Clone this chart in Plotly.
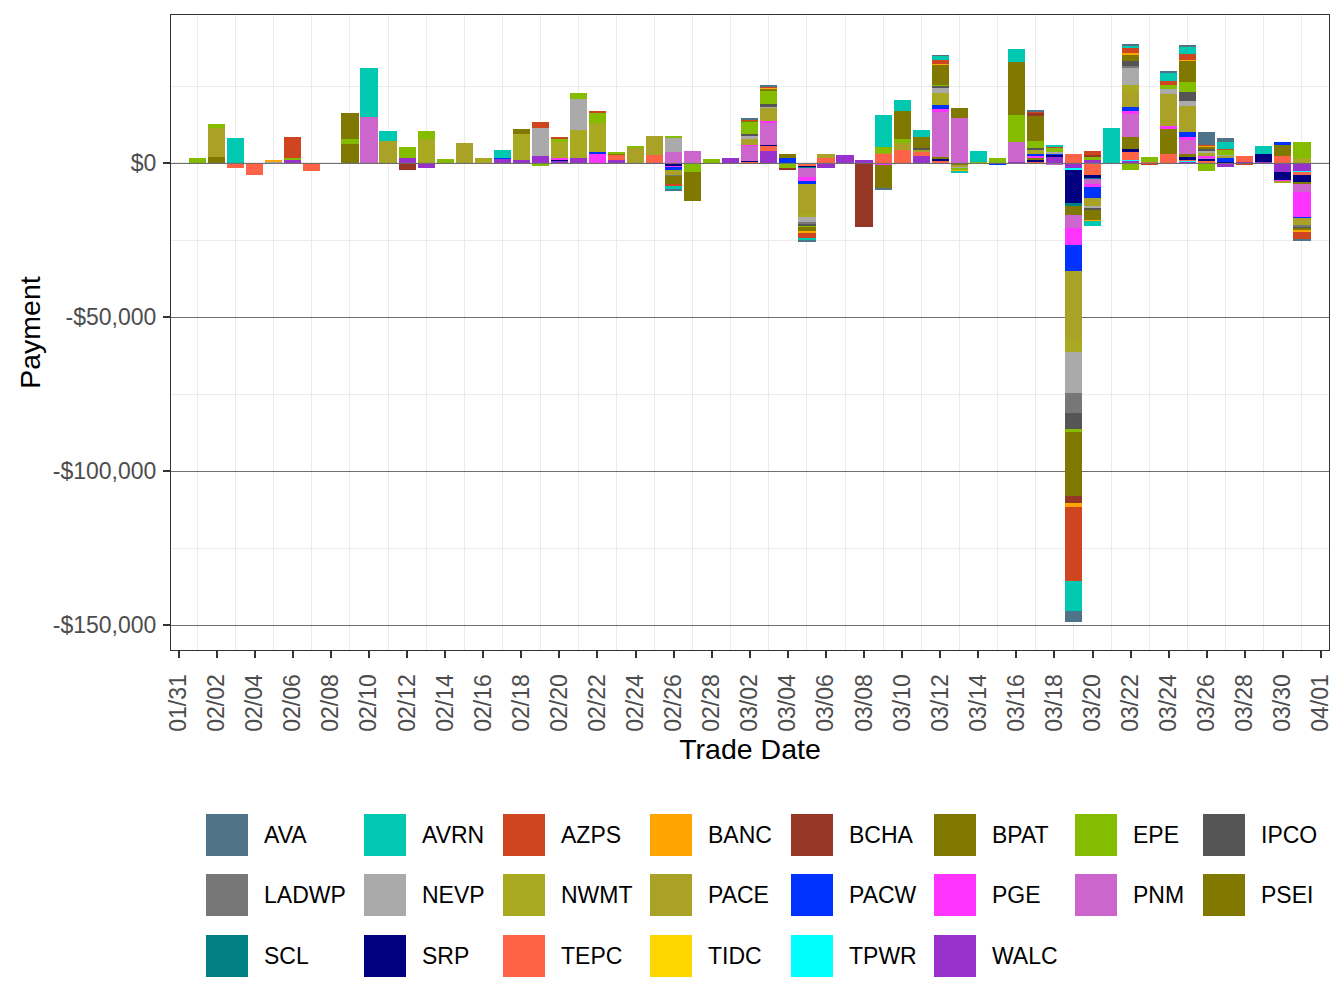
import plotly.graph_objects as go

YEAR = "2021"

SERIES = ["AVA", "AVRN", "AZPS", "BANC", "BCHA", "BPAT", "EPE", "IPCO",
          "LADWP", "NEVP", "NWMT", "PACE", "PACW", "PGE", "PNM", "PSEI",
          "SCL", "SRP", "TEPC", "TIDC", "TPWR", "WALC"]

COLORS = {
    "AVA": "#4F7489", "AVRN": "#00C8B1", "AZPS": "#CF4520", "BANC": "#FFA500",
    "BCHA": "#963624", "BPAT": "#817800", "EPE": "#84BD00", "IPCO": "#555555",
    "LADWP": "#777777", "NEVP": "#AAAAAA", "NWMT": "#AAAA22", "PACE": "#A9A227",
    "PACW": "#0033FF", "PGE": "#FF33FF", "PNM": "#CC66CC", "PSEI": "#817800",
    "SCL": "#008080", "SRP": "#000080", "TEPC": "#FF6347", "TIDC": "#FFD700",
    "TPWR": "#00FFFF", "WALC": "#9932CC",
}

# Payments in thousands of dollars: (MM-DD, value)
AVA = [("02-26", -0.3), ("03-02", 0.3), ("03-03", 0.6), ("03-05", -0.3), ("03-09", -0.3),
       ("03-12", 0.2), ("03-17", 0.6), ("03-19", -3.6), ("03-22", 0.3), ("03-24", 0.3),
       ("03-25", 0.6), ("03-26", 4.2), ("03-27", 1.3), ("03-31", -0.3)]
AVRN = [("02-03", 8.2), ("02-10", 15.9), ("02-11", 3.2), ("02-17", 2.6), ("02-26", -1.1),
        ("03-05", -1.0), ("03-09", 10.4), ("03-10", 3.6), ("03-11", 2.3), ("03-12", 1.3),
        ("03-13", -0.3), ("03-14", 3.6), ("03-16", 4.5), ("03-18", 0.2), ("03-19", -9.7),
        ("03-20", -1.6), ("03-21", 11.4), ("03-22", 0.6), ("03-24", 2.9), ("03-25", 2.3),
        ("03-27", 2.3), ("03-29", 2.6)]
AZPS = [("02-06", 7.1), ("02-19", 1.9), ("02-20", 0.3), ("02-22", 0.3), ("02-26", -0.6),
        ("03-02", 0.6), ("03-03", 0.3), ("03-05", -1.6), ("03-12", 1.3), ("03-17", 0.3),
        ("03-18", 0.3), ("03-19", -24.0), ("03-20", 1.3), ("03-22", 1.9), ("03-23", -0.3),
        ("03-24", 1.0), ("03-25", 1.9), ("03-26", 0.3), ("03-27", 0.3), ("03-28", -0.4),
        ("03-31", -2.6)]
BANC = [("02-05", 0.5), ("03-03", 0.3), ("03-05", -0.6), ("03-12", 0.3), ("03-13", -0.3),
        ("03-19", -1.3), ("03-20", -0.3), ("03-22", 0.3), ("03-25", 0.3), ("03-26", 0.3),
        ("03-31", -0.3)]
BCHA = [("02-12", -2.2), ("03-04", -0.3), ("03-08", -20.8), ("03-17", 1.0), ("03-19", -2.3),
        ("03-20", 0.3)]
BPAT = [("02-09", 8.4), ("02-18", 1.9), ("02-26", -2.7), ("02-27", -9.4), ("03-02", 0.3),
        ("03-03", 1.0), ("03-04", 1.6), ("03-05", -1.3), ("03-09", -7.6), ("03-10", 9.1),
        ("03-11", 3.6), ("03-12", 6.5), ("03-13", 3.2), ("03-16", 17.2), ("03-17", 8.1),
        ("03-19", -20.8), ("03-20", -3.2), ("03-22", 2.3), ("03-25", 7.1), ("03-26", 0.6),
        ("03-31", -0.6)]
EPE = [("02-01", 1.7), ("02-02", 1.2), ("02-06", 0.3), ("02-09", 1.6), ("02-12", 3.5),
       ("02-13", 2.6), ("02-14", 1.4), ("02-19", -0.9), ("02-20", 1.3), ("02-21", 1.9),
       ("02-22", 3.6), ("02-23", 0.6), ("02-24", 0.3), ("02-26", 0.3), ("02-27", -2.9),
       ("02-28", 1.3), ("03-02", 3.9), ("03-03", 4.2), ("03-04", -1.6), ("03-05", -0.3),
       ("03-09", 1.9), ("03-10", 1.3), ("03-12", 0.3), ("03-13", -0.6), ("03-14", 0.3),
       ("03-15", 1.6), ("03-16", 8.7), ("03-17", 2.3), ("03-18", 1.6), ("03-19", -1.0),
       ("03-20", 1.3), ("03-22", -2.3), ("03-23", 1.6), ("03-24", 1.3), ("03-25", 3.2),
       ("03-26", -2.6), ("03-27", 1.6), ("03-31", 4.9)]
IPCO = [("03-02", 0.6), ("03-03", 0.6), ("03-05", -0.6), ("03-11", 0.3), ("03-12", 0.6),
        ("03-17", 0.6), ("03-19", -5.2), ("03-20", -0.6), ("03-22", 1.6), ("03-25", 2.9),
        ("03-26", 0.6), ("03-31", -0.6)]
LADWP = [("02-26", -0.3), ("03-05", -0.6), ("03-19", -6.5), ("03-22", 0.3), ("03-31", -0.6)]
NEVP = [("02-05", 0.6), ("02-19", 9.1), ("02-21", 10.1), ("02-26", 4.9), ("03-02", 1.0),
        ("03-03", 0.6), ("03-05", -1.9), ("03-12", 1.9), ("03-13", -0.6), ("03-18", 0.5),
        ("03-19", -13.3), ("03-20", -1.0), ("03-22", 5.8), ("03-24", 1.9), ("03-25", 1.6),
        ("03-26", 0.6), ("03-27", 0.3)]
NWMT = [("02-13", 7.9), ("02-16", 1.6), ("02-18", 8.4), ("02-20", 5.1), ("02-21", 8.8),
        ("02-22", 9.3), ("03-05", -0.9), ("03-12", 3.9), ("03-17", 1.6), ("03-19", -4.2),
        ("03-22", 2.6), ("03-26", 0.6), ("03-31", 1.9)]
PACE = [("02-02", 9.5), ("02-11", 7.3), ("02-15", 6.6), ("02-24", 5.2), ("02-25", 6.2),
        ("02-26", -1.7), ("03-02", 1.9), ("03-03", 4.2), ("03-05", -9.8), ("03-06", 1.6),
        ("03-09", 0.2), ("03-10", 2.3), ("03-11", 1.0), ("03-13", -0.6), ("03-19", -22.1),
        ("03-20", -2.3), ("03-22", 4.5), ("03-24", 10.1), ("03-25", 8.3), ("03-26", 0.6),
        ("03-27", 0.6), ("03-30", -0.4), ("03-31", -2.3)]
PACW = [("02-06", 0.2), ("02-17", 0.3), ("02-22", 0.8), ("02-25", -0.2), ("02-26", -0.6),
        ("03-04", 1.6), ("03-05", -0.6), ("03-12", 1.0), ("03-15", -0.6), ("03-17", 0.5),
        ("03-18", 0.3), ("03-19", -8.4), ("03-20", -3.6), ("03-22", 1.3), ("03-25", 1.6),
        ("03-27", 1.3), ("03-30", 0.6), ("03-31", -0.3)]
PGE = [("02-20", 0.3), ("02-22", 2.9), ("02-26", -0.4), ("03-02", 0.3), ("03-03", 0.6),
       ("03-05", -1.6), ("03-09", -0.5), ("03-12", 1.0), ("03-17", 0.5), ("03-19", -5.5),
       ("03-20", -1.2), ("03-22", 1.0), ("03-24", 1.0), ("03-25", 1.0), ("03-26", 0.6),
       ("03-30", -0.3), ("03-31", -8.1)]
PNM = [("02-10", 15.0), ("02-26", 3.6), ("02-27", 3.9), ("03-02", 4.9), ("03-03", 7.1),
       ("03-05", -2.9), ("03-12", 14.6), ("03-13", 14.9), ("03-16", 6.3), ("03-18", -0.4),
       ("03-19", -4.2), ("03-20", -1.4), ("03-22", 7.5), ("03-25", 4.5), ("03-26", 0.3),
       ("03-31", -2.6)]
PSEI = [("02-02", 2.1), ("02-09", 6.3), ("02-23", 0.3), ("03-12", 0.5), ("03-13", -0.6),
        ("03-17", 0.6), ("03-19", -2.9), ("03-22", 3.9), ("03-24", 8.1), ("03-25", 1.0),
        ("03-30", 3.9), ("03-31", -0.6)]
SCL = [("03-05", -0.3), ("03-19", -1.0), ("03-20", -0.3)]
SRP = [("02-20", 0.4), ("02-26", -0.6), ("03-02", 0.3), ("03-03", 0.3), ("03-05", -0.3),
       ("03-12", 1.0), ("03-17", 1.0), ("03-18", 0.8), ("03-19", -10.9), ("03-20", -1.0),
       ("03-22", 1.0), ("03-25", 1.0), ("03-26", 0.6), ("03-27", 0.3), ("03-29", 2.6),
       ("03-30", -2.6), ("03-31", -2.3)]
TEPC = [("02-03", -1.4), ("02-04", -3.8), ("02-07", -2.5), ("02-16", -0.2), ("02-23", 1.9),
        ("02-25", 2.6), ("03-02", 0.6), ("03-03", 1.9), ("03-05", -0.6), ("03-06", 1.6),
        ("03-09", 3.0), ("03-10", 4.2), ("03-11", 1.3), ("03-12", 0.4), ("03-17", 0.3),
        ("03-18", -0.2), ("03-19", 2.9), ("03-20", -3.6), ("03-22", 2.5), ("03-23", 0.5),
        ("03-24", 3.2), ("03-25", 0.3), ("03-26", 0.6), ("03-27", 0.3), ("03-28", 1.9),
        ("03-30", 2.3), ("03-31", -1.0)]
TIDC = [("03-09", 0.2)]
TPWR = [("03-05", -0.3), ("03-19", -0.4), ("03-20", -0.3), ("03-22", 0.3), ("03-25", 0.3),
        ("03-31", -0.3)]
WALC = [("02-06", 1.1), ("02-12", 1.8), ("02-13", -1.4), ("02-17", 1.6), ("02-18", 1.0),
        ("02-19", 2.3), ("02-20", 1.0), ("02-21", 1.9), ("02-23", 1.0), ("02-26", -0.5),
        ("03-01", 1.6), ("03-03", 3.9), ("03-06", -1.6), ("03-07", 2.6), ("03-08", 1.0),
        ("03-11", 2.3), ("03-12", 0.3), ("03-16", 0.6), ("03-18", 2.1), ("03-19", -1.6),
        ("03-20", 1.0), ("03-21", 0.2), ("03-22", 0.8), ("03-25", 0.6), ("03-26", 0.3),
        ("03-27", -1.3), ("03-28", 0.6), ("03-29", 0.6), ("03-30", -2.9), ("03-31", -2.6)]

DATA = {"AVA": AVA, "AVRN": AVRN, "AZPS": AZPS, "BANC": BANC, "BCHA": BCHA, "BPAT": BPAT,
        "EPE": EPE, "IPCO": IPCO, "LADWP": LADWP, "NEVP": NEVP, "NWMT": NWMT, "PACE": PACE,
        "PACW": PACW, "PGE": PGE, "PNM": PNM, "PSEI": PSEI, "SCL": SCL, "SRP": SRP,
        "TEPC": TEPC, "TIDC": TIDC, "TPWR": TPWR, "WALC": WALC}

Y_TICKS = [0, -50000, -100000, -150000]
Y_TICK_TEXT = ["$0", "-$50,000", "-$100,000", "-$150,000"]
Y_MINOR = [25000, -25000, -75000, -125000]

FONT = "Liberation Sans, Arial, sans-serif"
DAY_MS = 86400000

fig = go.Figure()
# ggplot stacks the last level nearest zero: add traces WALC -> AVA
for name in reversed(SERIES):
    pts = DATA[name]
    fig.add_trace(go.Bar(
        x=[f"{YEAR}-{d}" for d, _ in pts],
        y=[v * 1000 for _, v in pts],
        name=name,
        marker=dict(color=COLORS[name], line=dict(width=0)),
        width=0.9 * DAY_MS,
        showlegend=False,
    ))

# figure geometry (pixels)
W, H = 1344, 1008
ML, MR, MT, MB = 171, 15, 15, 358
PW, PH = W - ML - MR, H - MT - MB

def px_x(px):
    return (px - ML) / PW

def px_y(py):
    return (H - MB - py) / PH

# custom legend (ggplot style, 8 columns x 3 rows)
LEG_COL_X = [206, 364, 503, 650, 791, 934, 1075, 1203]
LEG_ROW_Y = [814, 874, 935]
SW = 42
shapes = []
annotations = []
for i, name in enumerate(SERIES):
    r, c = divmod(i, 8)
    x0, y0 = LEG_COL_X[c], LEG_ROW_Y[r]
    shapes.append(dict(type="rect", xref="paper", yref="paper",
                       x0=px_x(x0), x1=px_x(x0 + SW), y0=px_y(y0 + SW), y1=px_y(y0),
                       fillcolor=COLORS[name], line=dict(width=0), layer="above"))
    annotations.append(dict(xref="paper", yref="paper", x=px_x(x0 + 56), y=px_y(y0 + SW / 2),
                            text=name, showarrow=False, xanchor="left", yanchor="middle",
                            font=dict(family=FONT, size=23, color="#000000")))

# zero reference line drawn over bars
shapes.append(dict(type="line", xref="paper", yref="y", x0=0, x1=1, y0=0, y1=0,
                   line=dict(color="#6E6E6E", width=1), layer="above"))

fig.update_layout(
    width=W, height=H,
    margin=dict(l=ML, r=MR, t=MT, b=MB),
    paper_bgcolor="white", plot_bgcolor="white",
    barmode="relative", bargap=0,
    font=dict(family=FONT, color="#4D4D4D"),
    shapes=shapes, annotations=annotations,
    showlegend=False,
)

fig.update_xaxes(
    type="date",
    range=["2021-01-30 14:24", "2021-04-01 10:05"],
    tick0="2021-01-31", dtick=2 * DAY_MS, tickformat="%m/%d",
    tickangle=-90, tickfont=dict(size=23, color="#4D4D4D"),
    ticks="outside", ticklen=7, tickwidth=2, tickcolor="#333333",
    ticklabelstandoff=7,
    showgrid=False,
    minor=dict(tick0="2021-02-01", dtick=2 * DAY_MS, showgrid=True,
               gridcolor="#EBEBEB", gridwidth=1, ticks=""),
    showline=True, mirror=True, linecolor="#333333", linewidth=1,
    zeroline=False, automargin=False,
    title=dict(text="Trade Date", font=dict(size=28.5, color="#000000"), standoff=8),
)

fig.update_yaxes(
    range=[-158100, 48200],
    tickmode="array", tickvals=Y_TICKS, ticktext=Y_TICK_TEXT,
    tickfont=dict(size=23, color="#4D4D4D"),
    ticks="outside", ticklen=7, tickwidth=2, tickcolor="#333333",
    ticklabelstandoff=2,
    showgrid=True, gridcolor="#6E6E6E", gridwidth=1,
    minor=dict(tickvals=Y_MINOR, showgrid=True, gridcolor="#EBEBEB", gridwidth=1, ticks=""),
    showline=True, mirror=True, linecolor="#333333", linewidth=1,
    zeroline=False, automargin=False,
    title=dict(text="Payment", font=dict(size=28.5, color="#000000"), standoff=3),
)

fig.write_html("out.html")
